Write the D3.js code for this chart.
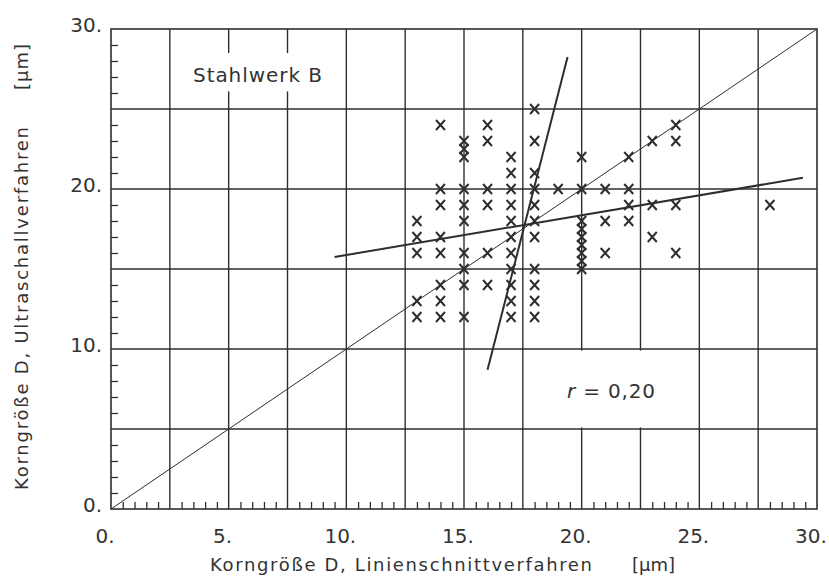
<!DOCTYPE html>
<html>
<head>
<meta charset="utf-8">
<script src="https://cdn.jsdelivr.net/npm/d3@7/dist/d3.min.js"></script>
<style>
  body { margin: 0; background: #fff; }
  text { font-family: "DejaVu Sans", sans-serif; fill: #333; }
</style>
</head>
<body>
<svg class="chart" width="829" height="578"></svg>
<script>
// axis ticks
const xTickLabels = [0, 5, 10, 15, 20, 25, 30];
const yTickLabels = [0, 10, 20, 30];
const xGridLines = [2.5, 5, 7.5, 10, 12.5, 15, 17.5, 20, 22.5, 25, 27.5];
const yGridLines = [5, 10, 15, 20, 25];

// grain size, line intercept method (x) vs ultrasonic method (y), µm
const linienschnitt = [
  13, 13, 13, 13, 13,
  14, 14, 14, 14, 14, 14, 14, 14,
  15, 15, 15, 15, 15, 15, 15, 15, 15, 15,
  16, 16, 16, 16, 16, 16,
  17, 17, 17, 17, 17, 17, 17, 17, 17, 17, 17,
  18, 18, 18, 18, 18, 18, 18, 18, 18, 18, 18,
  19,
  20, 20, 20, 20, 20, 20, 20, 20, 20,
  21, 21, 21,
  22, 22, 22, 22,
  23, 23, 23,
  24, 24, 24, 24,
  28,
];
const ultraschall = [
  18, 17, 16, 13, 12,
  24, 20, 19, 17, 16, 14, 13, 12,
  23, 22.5, 22, 20, 19, 18, 16, 15, 14, 12,
  24, 23, 20, 19, 16, 14,
  22, 21, 20, 19, 18, 17, 16, 15, 14, 13, 12,
  25, 23, 21, 20, 19, 18, 17, 15, 14, 13, 12,
  20,
  22, 20, 18, 17.5, 17, 16.5, 16, 15.5, 15,
  20, 18, 16,
  22, 20, 19, 18,
  23, 19, 17,
  24, 23, 19, 16,
  19,
];

// regression lines and the line of equality
const fitFlat = [[9.5, 15.75], [29.4, 20.7]];
const fitSteep = [[16.0, 8.7], [19.4, 28.25]];
const diagonal = [[0, 0], [30, 30]];

const xTitle = "Korngröße D, Linienschnittverfahren";
const yTitle = "Korngröße D, Ultraschallverfahren";
const unitLabel = "[µm]";
const plantLabel = "Stahlwerk B";
const corrValue = "0,20";

const svg = d3.select('.chart');
const margin = { top: 29, right: 12, bottom: 69, left: 111 };
const width = 829 - margin.left - margin.right;
const height = 578 - margin.top - margin.bottom;
const ink = '#2e2e2e';

const x = d3.scaleLinear().domain([0, 30]).range([margin.left, margin.left + width]);
const y = d3.scaleLinear().domain([0, 30]).range([margin.top + height, margin.top]);

const g = svg.append('g');

// grid
g.selectAll('.vgrid').data(xGridLines).join('line')
  .attr('x1', d => x(d)).attr('x2', d => x(d))
  .attr('y1', y(0)).attr('y2', y(30))
  .attr('stroke', ink).attr('stroke-width', 1.4);
g.selectAll('.hgrid').data(yGridLines).join('line')
  .attr('x1', x(0)).attr('x2', x(30))
  .attr('y1', d => y(d)).attr('y2', d => y(d))
  .attr('stroke', ink).attr('stroke-width', 1.4);

// white boxes behind the labels
g.append('rect')
  .attr('x', x(3.1)).attr('y', y(28.5))
  .attr('width', x(9.7) - x(3.1)).attr('height', y(26.1) - y(28.5))
  .attr('fill', '#fff');
g.append('rect')
  .attr('x', x(17.8)).attr('y', y(9.9))
  .attr('width', x(24.7) - x(17.8)).attr('height', y(5.1) - y(9.9))
  .attr('fill', '#fff');

// minor ticks
const yMinor = d3.range(1, 30).filter(d => d % 5 !== 0);
const xMinor = d3.range(0.5, 30, 0.5).filter(d => d % 2.5 !== 0);
g.append('g')
  .attr('transform', `translate(${x(0)},0)`)
  .call(d3.axisLeft(y).tickValues(yMinor).tickSize(-7).tickFormat(''))
  .call(a => a.select('.domain').remove())
  .selectAll('line').attr('stroke', ink).attr('stroke-width', 1.3);
g.append('g')
  .attr('transform', `translate(0,${y(0)})`)
  .call(d3.axisBottom(x).tickValues(xMinor).tickSize(-7).tickFormat(''))
  .call(a => a.select('.domain').remove())
  .selectAll('line').attr('stroke', ink).attr('stroke-width', 1.3);

// frame
g.append('rect')
  .attr('x', x(0)).attr('y', y(30))
  .attr('width', x(30) - x(0)).attr('height', y(0) - y(30))
  .attr('fill', 'none').attr('stroke', ink).attr('stroke-width', 1.6);

const line = d3.line().x(d => x(d[0])).y(d => y(d[1]));

g.append('path').attr('d', line(diagonal))
  .attr('fill', 'none').attr('stroke', ink).attr('stroke-width', 1);
g.append('path').attr('d', line(fitFlat))
  .attr('fill', 'none').attr('stroke', ink).attr('stroke-width', 2);
g.append('path').attr('d', line(fitSteep))
  .attr('fill', 'none').attr('stroke', ink).attr('stroke-width', 2);

// points
const points = linienschnitt.map((d, i) => [d, ultraschall[i]]);
g.selectAll('.pt').data(points).join('path')
  .attr('transform', d => `translate(${x(d[0])},${y(d[1])})`)
  .attr('d', 'M-4.5,-5L4.5,5M-4.5,5L4.5,-5')
  .attr('stroke', ink).attr('stroke-width', 2).attr('fill', 'none');

// tick labels
g.selectAll('.xlab').data(xTickLabels).join('text')
  .attr('x', d => x(d) - 6).attr('y', 543)
  .attr('text-anchor', 'middle').attr('font-size', 20)
  .text(d => d + '.');
g.selectAll('.ylab').data(yTickLabels).join('text')
  .attr('x', 102).attr('y', d => y(d) + 3)
  .attr('text-anchor', 'end').attr('font-size', 20)
  .text(d => d + '.');

// axis titles
g.append('text').attr('x', 210).attr('y', 571).attr('font-size', 18)
  .attr('textLength', 382).attr('lengthAdjust', 'spacing').text(xTitle);
g.append('text').attr('x', 632).attr('y', 571).attr('font-size', 18)
  .attr('textLength', 43).attr('lengthAdjust', 'spacing').text(unitLabel);
g.append('text').attr('transform', 'translate(28,490) rotate(-90)').attr('font-size', 18)
  .attr('textLength', 363).attr('lengthAdjust', 'spacing').text(yTitle);
g.append('text').attr('transform', 'translate(28,90) rotate(-90)').attr('font-size', 18)
  .attr('textLength', 46).attr('lengthAdjust', 'spacing').text(unitLabel);

// annotations
g.append('text').attr('x', 193).attr('y', 82).attr('font-size', 20)
  .attr('textLength', 129).attr('lengthAdjust', 'spacing').text(plantLabel);
const r = g.append('text').attr('x', 567).attr('y', 398).attr('font-size', 20)
  .attr('textLength', 88).attr('lengthAdjust', 'spacing');
r.append('tspan').attr('font-style', 'italic').text('r');
r.append('tspan').text(' = ' + corrValue);
</script>
</body>
</html>
